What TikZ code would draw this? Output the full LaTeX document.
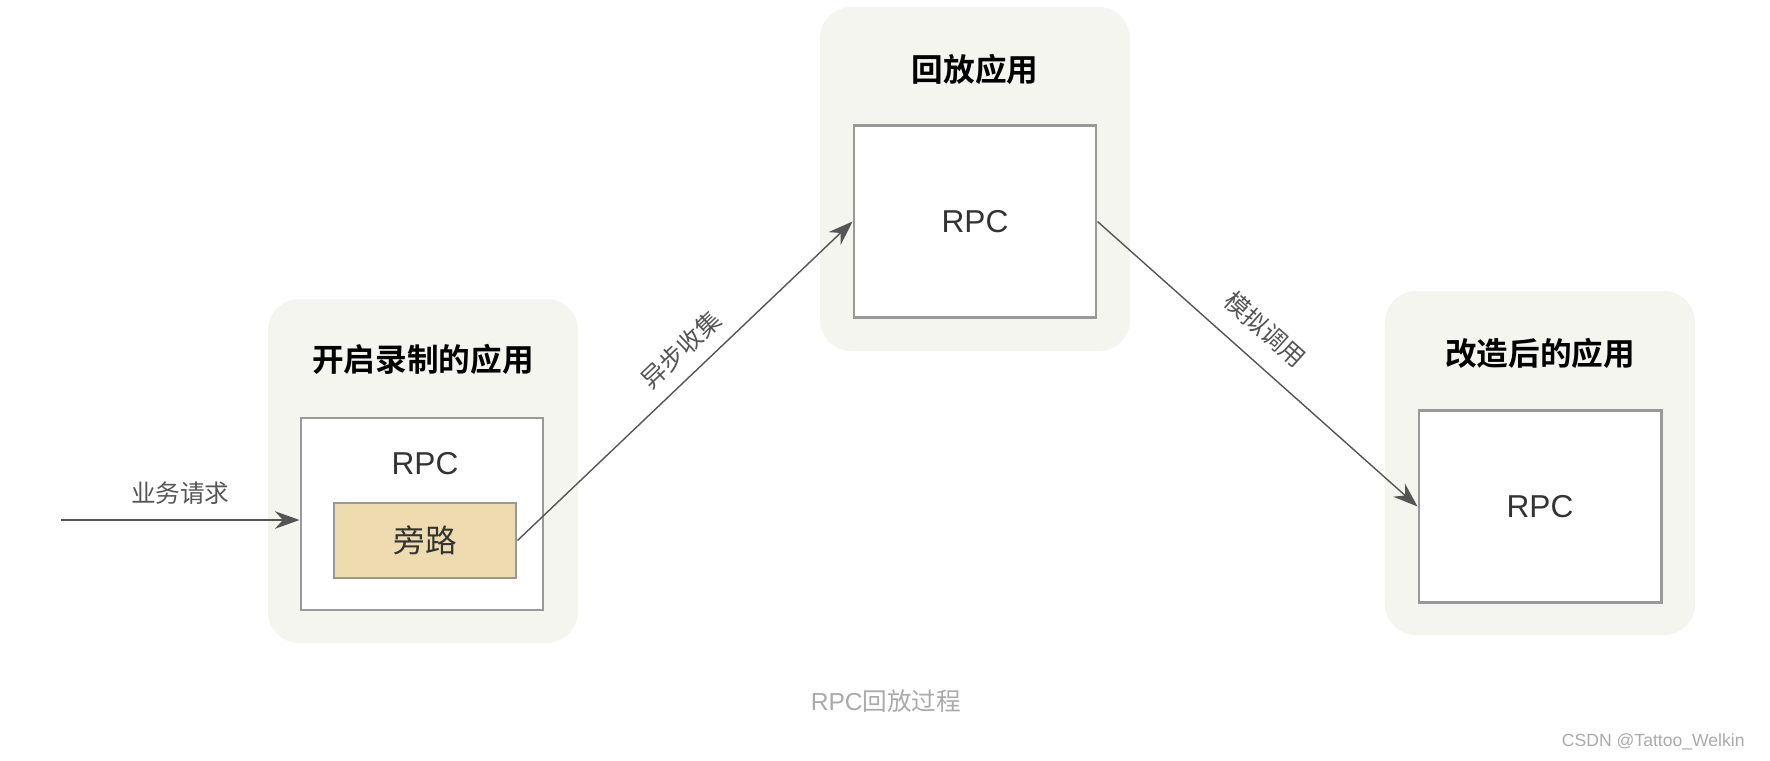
\documentclass[tikz,border=0pt]{standalone}
\usepackage{fontspec}
\setmainfont{Liberation Sans}
\newfontfamily\cjk{Noto Sans CJK SC}[BoldFont={Noto Sans CJK SC Bold}]
\usepackage{xcolor}
\definecolor{panelbg}{HTML}{F5F5F0}
\definecolor{boxline}{HTML}{999999}
\definecolor{arrline}{HTML}{555555}
\definecolor{bypassfill}{HTML}{EEDCB0}
\definecolor{textdark}{HTML}{333333}
\definecolor{captiongray}{HTML}{AAAAAA}
\usetikzlibrary{arrows.meta, positioning}

\begin{document}
\begin{tikzpicture}[
  x=0.01cm, y=-0.01cm,
  panel/.style={rectangle, rounded corners=9pt, draw=none, fill=panelbg,
    minimum width=3.1cm, minimum height=3.44cm},
  title/.style={font=\cjk\bfseries\fontsize{9}{11}\selectfont, text=black},
  rpcbox/.style={rectangle, draw=boxline, thick, fill=white,
    minimum width=2.42cm, minimum height=1.92cm},
  rpctext/.style={font=\fontsize{9}{11}\selectfont, text=textdark},
  bypass/.style={rectangle, draw=boxline, thick, fill=bypassfill,
    minimum width=1.82cm, minimum height=0.75cm,
    font=\cjk\fontsize{9}{11}\selectfont, text=textdark},
  lbl/.style={font=\cjk\fontsize{7}{9}\selectfont, text=arrline},
  arr/.style={-{Stealth[length=7pt, width=5pt]}, thin, color=arrline}
]
  \useasboundingbox (0,0) rectangle (1770,760);

  % three applications
  \node[panel] (recApp) at (423,471) {};
  \node[panel] (playApp) at (975,179) {};
  \node[panel] (newApp) at (1540,463) {};

  \node[title] (recTitle) at (423,359) {开启录制的应用};
  \node[title] (playTitle) at (975,69) {回放应用};
  \node[title] (newTitle) at (1540,353) {改造后的应用};

  \node[rpcbox] (rpcA) at (422,514) {};
  \node[rpctext] at (425,464) {RPC};
  \node[bypass] (bypassNode) at (425,540.5) {旁路};

  \node[rpcbox, rpctext] (rpcB) at (975,221.5) {RPC};
  \node[rpcbox, rpctext] (rpcC) at (1540,506.5) {RPC};

  % flows
  \coordinate (req) at (61,520);
  \draw[arr] (req) -- node[lbl, above=1pt] {业务请求} (req -| rpcA.west);
  \draw[arr] (bypassNode.east) -- node[lbl, sloped, above=0.5pt, pos=0.54] {异步收集} (rpcB.west);
  \draw[arr] (rpcB.east) -- node[lbl, sloped, above=2pt, pos=0.46] {模拟调用} (rpcC.west);

  \node[font=\fontsize{7}{9}\selectfont, text=captiongray] (caption) at (886,701)
    {RPC{\cjk 回放过程}};
  \node[font=\fontsize{5}{6}\selectfont, text=captiongray, anchor=east] (mark)
    at (1757,742) {CSDN @Tattoo\_Welkin};
\end{tikzpicture}
\end{document}
